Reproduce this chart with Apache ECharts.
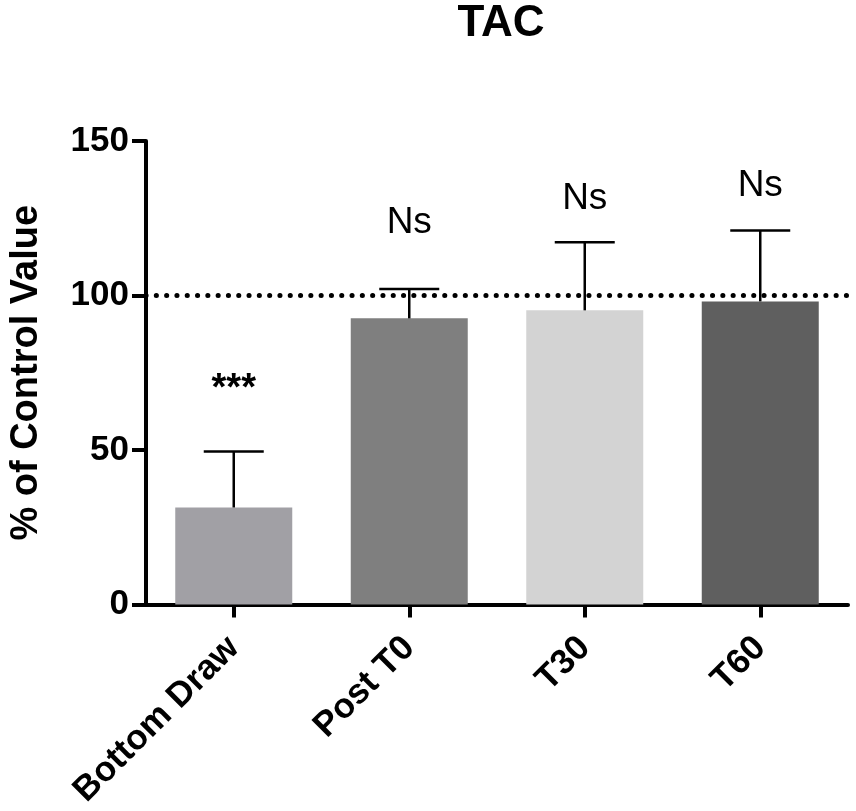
<!DOCTYPE html>
<html>
<head>
<meta charset="utf-8">
<script src="https://cdn.jsdelivr.net/npm/echarts@6/dist/echarts.min.js"></script>
<style>
html,body{margin:0;padding:0;background:#fff;}
#chart{width:856px;height:811px;}
</style>
</head>
<body>
<div id="chart"></div>
<script>
// ---- data ----
var categories = ['Bottom Draw', 'Post T0', 'T30', 'T60'];
var meanValues = [31.4, 92.6, 95.2, 98.1];
var errorUpper = [49.5, 102.1, 117.2, 121.0];
var barColors = ['#a1a0a5', '#7f7f7f', '#d3d3d3', '#5f5f5f'];
var annotationText = ['***', 'Ns', 'Ns', 'Ns'];
var annotationY = [69.5, 123.6, 131.2, 135.4];
var controlLevel = 100;
var yTicks = [0, 50, 100, 150];

var FONT = "'Liberation Sans', Arial, Helvetica, sans-serif";
var chart = echarts.init(document.getElementById('chart'), null, {renderer: 'canvas'});

var option = {
  backgroundColor: '#ffffff',
  animation: false,
  title: {
    text: 'TAC',
    left: 496,
    textAlign: 'center',
    top: -3,
    textStyle: {fontFamily: FONT, fontWeight: 'bold', fontSize: 44, color: '#000'}
  },
  grid: {left: 142, right: 8, top: 141, bottom: 200, containLabel: false},
  xAxis: {
    type: 'category',
    data: categories,
    axisLine: {show: true, lineStyle: {color: '#000', width: 4}},
    axisTick: {show: true, alignWithLabel: true, length: 13, lineStyle: {color: '#000', width: 4}},
    axisLabel: {
      rotate: 45, margin: 38, interval: 0,
      fontFamily: FONT, fontWeight: 'bold', fontSize: 35, color: '#000'
    },
    splitLine: {show: false}
  },
  yAxis: {
    type: 'value',
    min: yTicks[0],
    max: yTicks[yTicks.length - 1],
    interval: 50,
    name: '% of Control Value',
    nameLocation: 'middle',
    nameGap: 100,
    nameRotate: 90,
    nameTextStyle: {fontFamily: FONT, fontWeight: 'bold', fontSize: 38, color: '#000'},
    axisLine: {show: true, lineStyle: {color: '#000', width: 4}},
    axisTick: {show: true, length: 14, lineStyle: {color: '#000', width: 4}},
    axisLabel: {margin: 17, fontFamily: FONT, fontWeight: 'bold', fontSize: 35, color: '#000'},
    splitLine: {show: false}
  },
  series: [
    {
      type: 'bar',
      barWidth: 117,
      data: meanValues.map(function (v, i) { return {value: v, itemStyle: {color: barColors[i]}}; }),
      markLine: {
        silent: true,
        symbol: ['none', 'none'],
        label: {show: false},
        lineStyle: {color: '#000', width: 5, type: [0.1, 10.2], cap: 'round'},
        data: [{yAxis: controlLevel}]
      },
      z: 2
    },
    {
      type: 'custom',
      z: 5,
      data: categories.map(function (c, i) { return [i, meanValues[i], errorUpper[i]]; }),
      renderItem: function (params, api) {
        var base = api.coord([api.value(0), api.value(1)]);
        var top = api.coord([api.value(0), api.value(2)]);
        var hw = 30;
        return {
          type: 'group',
          children: [
            {type: 'line', shape: {x1: base[0], y1: base[1], x2: top[0], y2: top[1]}, style: {stroke: '#000', lineWidth: 2.5}},
            {type: 'line', shape: {x1: top[0] - hw, y1: top[1], x2: top[0] + hw, y2: top[1]}, style: {stroke: '#000', lineWidth: 2.5}}
          ]
        };
      }
    },
    {
      type: 'custom',
      z: 6,
      data: categories.map(function (c, i) { return [i, annotationY[i]]; }),
      renderItem: function (params, api) {
        var p = api.coord([api.value(0), api.value(1)]);
        var txt = annotationText[params.dataIndex];
        var isStar = txt.indexOf('*') >= 0;
        return {
          type: 'text',
          x: p[0], y: p[1],
          style: {
            text: txt,
            align: 'center',
            verticalAlign: 'middle',
            fontFamily: FONT,
            fontWeight: isStar ? 'bold' : 'normal',
            fontSize: isStar ? 38 : 37,
            fill: '#000'
          }
        };
      }
    }
  ]
};
chart.setOption(option);
</script>
</body>
</html>
